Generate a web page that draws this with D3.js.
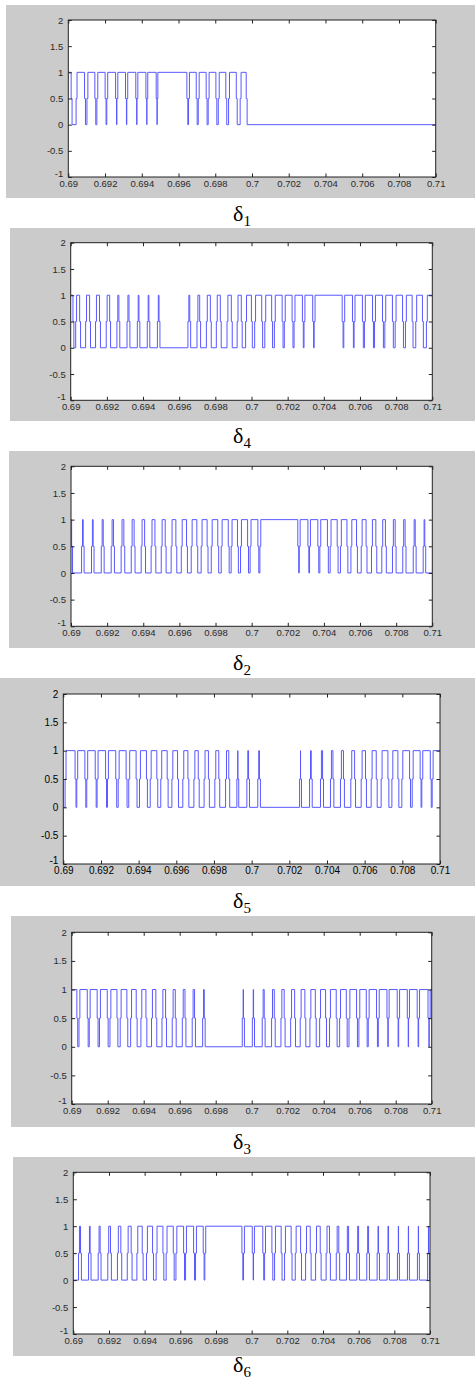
<!DOCTYPE html>
<html><head><meta charset="utf-8">
<script src="https://cdn.jsdelivr.net/npm/d3@7"></script>
<style>body{margin:0;background:#fff;} svg{display:block;}</style>
</head><body>
<svg id="c" width="475" height="1385"></svg>
<script>
// ---- data ----
const xTicks = [0.69,0.692,0.694,0.696,0.698,0.70,0.702,0.704,0.706,0.708,0.71];
const xTickLabels = ["0.69","0.692","0.694","0.696","0.698","0.7","0.702","0.704","0.706","0.708","0.71"];
const yTicks = [-1,-0.5,0,0.5,1,1.5,2];
const yTickLabels = ["-1","-0.5","0","0.5","1","1.5","2"];
const panelSubscripts = ["1","4","2","5","3","6"];
const initialLevels = [1,1,1,0,1,0];
// switching instants (s); the level toggles between 0 and 1 at each one
const delta1Edges = [0.69018,0.69045,0.69091,0.69104,0.69147,0.69158,0.69203,0.69212,0.69260,0.69267,0.69314,0.69321,0.69370,0.69376,0.69425,0.69430,0.69481,0.69485,0.69648,0.69657,0.69699,0.69710,0.69753,0.69764,0.69806,0.69819,0.69860,0.69875,0.69917,0.69938,0.69971];
const delta4Edges = [0.69015,0.69030,0.69052,0.69085,0.69107,0.69140,0.69162,0.69199,0.69218,0.69258,0.69269,0.69314,0.69325,0.69371,0.69380,0.69426,0.69435,0.69482,0.69491,0.69651,0.69661,0.69701,0.69716,0.69753,0.69775,0.69808,0.69830,0.69867,0.69891,0.69923,0.69946,0.69970,0.70002,0.70020,0.70059,0.70076,0.70114,0.70129,0.70172,0.70184,0.70227,0.70238,0.70284,0.70293,0.70341,0.70349,0.70504,0.70513,0.70561,0.70570,0.70616,0.70627,0.70672,0.70683,0.70727,0.70740,0.70782,0.70797,0.70838,0.70854,0.70891,0.70911,0.70948,0.70970];
const delta2Edges = [0.69006,0.69061,0.69070,0.69116,0.69125,0.69170,0.69181,0.69225,0.69238,0.69280,0.69295,0.69336,0.69352,0.69391,0.69410,0.69446,0.69467,0.69502,0.69524,0.69557,0.69583,0.69613,0.69642,0.69668,0.69699,0.69723,0.69756,0.69779,0.69815,0.69834,0.69873,0.69889,0.69924,0.69941,0.69980,0.69994,0.70037,0.70048,0.70258,0.70266,0.70314,0.70323,0.70369,0.70380,0.70422,0.70437,0.70476,0.70494,0.70530,0.70552,0.70583,0.70609,0.70636,0.70666,0.70690,0.70723,0.70743,0.70782,0.70797,0.70839,0.70852,0.70897,0.70908,0.70952,0.70961];
const delta5Edges = [0.69012,0.69065,0.69074,0.69117,0.69127,0.69172,0.69182,0.69227,0.69237,0.69281,0.69294,0.69336,0.69350,0.69389,0.69407,0.69444,0.69464,0.69499,0.69520,0.69554,0.69579,0.69609,0.69637,0.69664,0.69696,0.69719,0.69750,0.69773,0.69807,0.69828,0.69864,0.69881,0.69924,0.69929,0.69977,0.69986,0.70035,0.70044,0.70257,0.70262,0.70310,0.70319,0.70368,0.70379,0.70421,0.70434,0.70474,0.70490,0.70529,0.70549,0.70584,0.70607,0.70637,0.70664,0.70690,0.70726,0.70747,0.70779,0.70800,0.70841,0.70855,0.70897,0.70906,0.70951,0.70961];
const delta3Edges = [0.69031,0.69043,0.69089,0.69100,0.69144,0.69157,0.69200,0.69215,0.69254,0.69272,0.69309,0.69330,0.69361,0.69387,0.69415,0.69446,0.69470,0.69504,0.69524,0.69561,0.69578,0.69617,0.69632,0.69672,0.69685,0.69730,0.69739,0.69950,0.69957,0.70006,0.70013,0.70061,0.70072,0.70113,0.70128,0.70165,0.70183,0.70219,0.70241,0.70272,0.70298,0.70326,0.70356,0.70380,0.70413,0.70435,0.70472,0.70491,0.70528,0.70543,0.70585,0.70598,0.70639,0.70650,0.70696,0.70706,0.70754,0.70761,0.70811,0.70819,0.70867,0.70874,0.70922,0.70930,0.70982,0.70989];
const delta6Edges = [0.69032,0.69043,0.69088,0.69097,0.69142,0.69153,0.69196,0.69211,0.69250,0.69269,0.69305,0.69327,0.69359,0.69389,0.69413,0.69447,0.69467,0.69505,0.69523,0.69563,0.69578,0.69621,0.69632,0.69677,0.69688,0.69731,0.69740,0.69948,0.69957,0.70006,0.70013,0.70065,0.70075,0.70116,0.70131,0.70168,0.70187,0.70224,0.70247,0.70277,0.70305,0.70331,0.70361,0.70387,0.70420,0.70439,0.70477,0.70491,0.70534,0.70546,0.70592,0.70602,0.70648,0.70658,0.70706,0.70714,0.70762,0.70770,0.70820,0.70826,0.70876,0.70882,0.70932,0.70938,0.70989,0.70994];
const panelEdges = [delta1Edges, delta4Edges, delta2Edges, delta5Edges, delta3Edges, delta6Edges];

// ---- layout ----
const layout = [
  {bg:[6,5,475,198],    plot:[68.3,20,435.7,177],     labelY:221},
  {bg:[10,228,475,421], plot:[70.7,242.7,432.3,400.3],labelY:443},
  {bg:[9,451,475,648],  plot:[71,466.3,432.3,626.3],  labelY:670},
  {bg:[0,678,475,886],  plot:[63.3,694,440,864],      labelY:908},
  {bg:[11,916,475,1127],plot:[71.7,932.3,431.7,1104], labelY:1149},
  {bg:[13,1157,475,1356],plot:[73.3,1172.3,430,1334], labelY:1372}
];
const W = 0.00005; // visual width of the stepped transition

const svg = d3.select("#c");
const gPanels = svg.append("g");
const gLabels = svg.append("g");
const xDomain = [xTicks[0], xTicks[xTicks.length-1]];
const yDomain = [yTicks[0], yTicks[yTicks.length-1]];

layout.forEach((L, i) => {
  const [bx0,by0,bx1,by1] = L.bg;
  const [px0,py0,px1,py1] = L.plot;
  const g = gPanels.append("g");
  g.append("rect").attr("x",bx0).attr("y",by0).attr("width",bx1-bx0).attr("height",by1-by0).attr("fill","#cbcbcb");
  g.append("rect").attr("x",px0).attr("y",py0).attr("width",px1-px0).attr("height",py1-py0).attr("fill","#fff");

  const x = d3.scaleLinear().domain(xDomain).range([px0,px1]);
  const y = d3.scaleLinear().domain(yDomain).range([py1,py0]);

  // waveform
  const pts = [];
  let v = initialLevels[i];
  pts.push([xDomain[0], v]);
  let last = xDomain[0];
  panelEdges[i].forEach(t => {
    const nv = 1 - v;
    const a = Math.max(last, t - W/2), b = Math.max(a, t + W/2);
    pts.push([a, v],[a, 0.5],[b, 0.5],[b, nv]);
    last = b; v = nv;
  });
  pts.push([xDomain[1], v]);

  const clipId = "clip"+i;
  g.append("clipPath").attr("id",clipId).append("rect")
    .attr("x",px0).attr("y",py0-2).attr("width",px1-px0).attr("height",py1-py0+4);
  g.append("path").datum(pts)
    .attr("clip-path","url(#"+clipId+")")
    .attr("fill","none").attr("stroke","#5858ff").attr("stroke-width",1)
    .attr("d", d3.line().x(d=>x(d[0])).y(d=>y(d[1])));

  const fs = i===3 ? 10 : 9.5;
  const tc = i===3 ? "#000" : "#2a2a2a";
  const fmtX = d => xTickLabels[xTicks.indexOf(d)];
  const fmtY = d => yTickLabels[yTicks.indexOf(d)];

  const styleAxis = ax => {
    ax.select(".domain").remove();
    ax.selectAll("line").attr("stroke","#222");
    ax.selectAll("text").attr("fill",tc).style("font-family","'Liberation Sans', Arial, sans-serif").style("font-size",fs+"px");
  };
  g.append("g").attr("transform",`translate(0,${py1})`)
    .call(d3.axisBottom(x).tickValues(xTicks).tickFormat(fmtX).tickSizeInner(-3.5).tickSizeOuter(0).tickPadding(3))
    .call(styleAxis);
  g.append("g").attr("transform",`translate(0,${py0})`)
    .call(d3.axisTop(x).tickValues(xTicks).tickFormat("").tickSizeInner(-3.5).tickSizeOuter(0))
    .call(styleAxis);
  const yAx = g.append("g").attr("transform",`translate(${px0},0)`)
    .call(d3.axisLeft(y).tickValues(yTicks).tickFormat(fmtY).tickSizeInner(-3.5).tickSizeOuter(0).tickPadding(5))
    .call(styleAxis);
  // the lowest y label sits just above the x labels, as in the original figure
  yAx.selectAll(".tick").filter(d => d === yDomain[0]).select("text").attr("dy","-0.05em");
  g.append("g").attr("transform",`translate(${px1},0)`)
    .call(d3.axisRight(y).tickValues(yTicks).tickFormat("").tickSizeInner(-3.5).tickSizeOuter(0))
    .call(styleAxis);

  g.append("rect").attr("x",px0).attr("y",py0).attr("width",px1-px0).attr("height",py1-py0)
    .attr("fill","none").attr("stroke","#222").attr("stroke-width",1);

  const lab = gLabels.append("text").attr("x",242).attr("y",L.labelY)
    .attr("text-anchor","middle").style("font-family","'Liberation Serif','Times New Roman',serif")
    .style("font-size","22px").attr("fill","#000");
  lab.append("tspan").text("δ");
  lab.append("tspan").attr("dy",5).style("font-size","15px").text(panelSubscripts[i]);
});
</script>
</body></html>
